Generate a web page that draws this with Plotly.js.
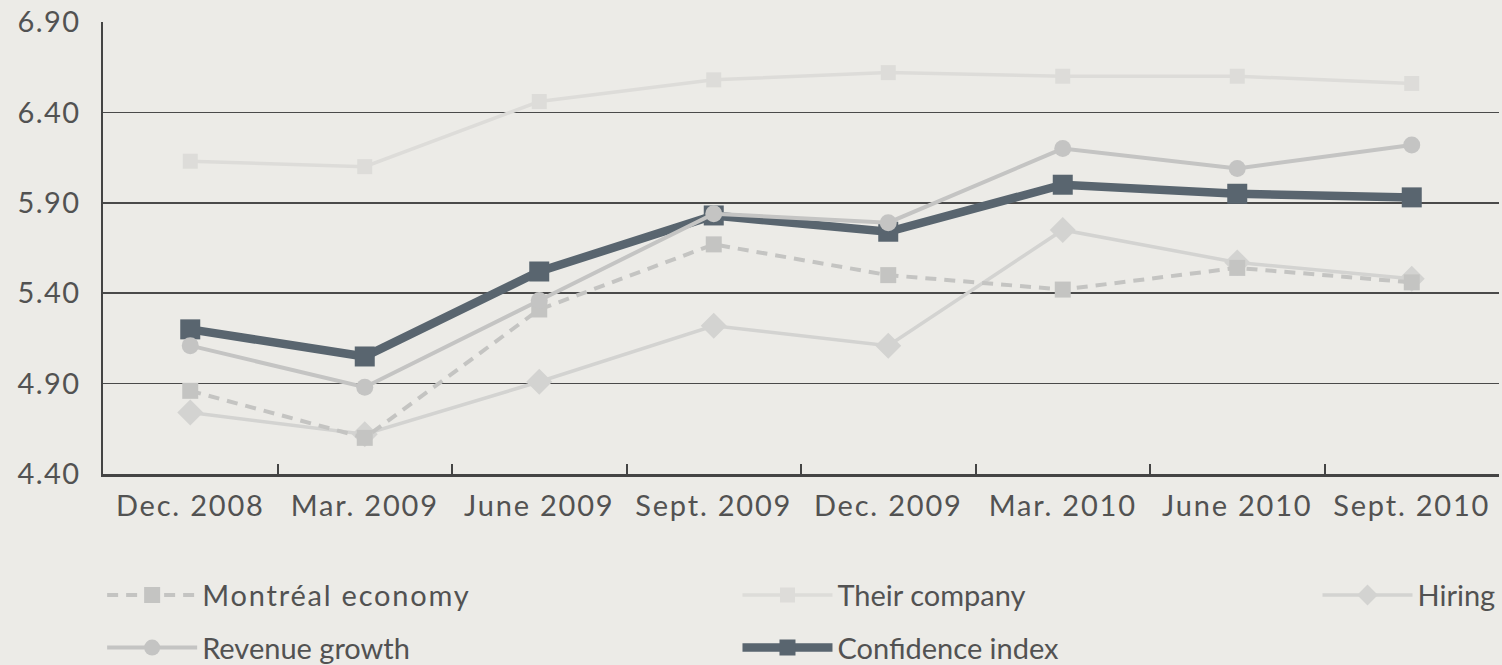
<!DOCTYPE html>
<html>
<head>
<meta charset="utf-8">
<script src="https://cdn.plot.ly/plotly-3.0.1.min.js"></script>
<style>
html,body{margin:0;padding:0;background:#ecebe7;}
#chart{width:1502px;height:665px;}
svg text.legendtext{letter-spacing:1.8px;}
#chart .xtick text{letter-spacing:1.8px;}
#chart .ytick text{letter-spacing:1.5px;}
</style>
</head>
<body>
<div id="chart"></div>
<script>
const categories = ["Dec. 2008","Mar. 2009","June 2009","Sept. 2009","Dec. 2009","Mar. 2010","June 2010","Sept. 2010"];
const montrealEconomy = [4.86, 4.60, 5.31, 5.67, 5.50, 5.42, 5.54, 5.46];
const theirCompany    = [6.13, 6.10, 6.46, 6.58, 6.62, 6.60, 6.60, 6.56];
const hiring          = [4.74, 4.62, 4.91, 5.22, 5.11, 5.75, 5.57, 5.48];
const revenueGrowth   = [5.11, 4.88, 5.36, 5.84, 5.79, 6.20, 6.09, 6.22];
const confidenceIndex = [5.20, 5.05, 5.52, 5.83, 5.74, 6.00, 5.95, 5.93];
const yTicks = [4.40, 4.90, 5.40, 5.90, 6.40, 6.90];

const FONT = "Lato, 'Open Sans', sans-serif";
const TXT = "#525252";

const traces = [
  {name:"Their company", x:categories, y:theirCompany, mode:"lines+markers", legend:"legend2",
   line:{color:"#dddcd9", width:3.5}, marker:{symbol:"square", size:15, color:"#dddcd9"}},
  {name:"Hiring", x:categories, y:hiring, mode:"lines+markers", legend:"legend5",
   line:{color:"#d3d3d1", width:3.5}, marker:{symbol:"diamond", size:20, color:"#d3d3d1"}},
  {name:"Montréal economy", x:categories, y:montrealEconomy, mode:"lines+markers", legend:"legend",
   line:{color:"#c4c4c2", width:4, dash:"11px,8px"}, marker:{symbol:"square", size:16, color:"#c4c4c2"}},
  {name:"Confidence index", x:categories, y:confidenceIndex, mode:"lines+markers", legend:"legend4",
   line:{color:"#59656f", width:8.5}, marker:{symbol:"square", size:20, color:"#59656f"}},
  {name:"Revenue growth", x:categories, y:revenueGrowth, mode:"lines+markers", legend:"legend3",
   line:{color:"#c4c4c3", width:4}, marker:{symbol:"circle", size:17, color:"#c4c4c3"}}
];

function leg(x, y, xanchor){
  return {x:x, y:y, xref:"container", yref:"container", xanchor:xanchor, yanchor:"middle",
    orientation:"v", bgcolor:"rgba(0,0,0,0)", itemwidth:90, itemclick:false,
    font:{family:FONT, size:29, color:TXT}};
}

const layout = {
  width:1502, height:665,
  paper_bgcolor:"#ecebe7", plot_bgcolor:"#ecebe7",
  margin:{l:103, r:3, t:22, b:191, autoexpand:false},
  showlegend:true,
  xaxis:{type:"category", range:[-0.5,7.5], showgrid:false, showline:true, linecolor:"#444444", linewidth:2.5,
    ticks:"inside", tickson:"boundaries", ticklen:10, tickwidth:2, tickcolor:"#444444", tickangle:0,
    automargin:false,
    tickfont:{family:FONT, size:29, color:TXT}, ticklabelstandoff:5, zeroline:false, fixedrange:true},
  yaxis:{range:[4.40,6.90], tickvals:yTicks, ticktext:yTicks.map(v=>v.toFixed(2)), automargin:false,
    showgrid:true, gridcolor:"#4a4a4a", gridwidth:1.5, showline:true, linecolor:"#444444", linewidth:2.5,
    ticks:"", tickfont:{family:FONT, size:29, color:TXT}, ticklabelstandoff:14, zeroline:false, fixedrange:true},
  legend: leg(0.068, 0.105, "left"),
  legend3: leg(0.068, 0.026, "left"),
  legend2: leg(0.491, 0.105, "left"),
  legend4: leg(0.491, 0.026, "left"),
  legend5: leg(0.999, 0.105, "right")
};

Plotly.newPlot("chart", traces, layout, {displayModeBar:false, staticPlot:true});
</script>
</body>
</html>
